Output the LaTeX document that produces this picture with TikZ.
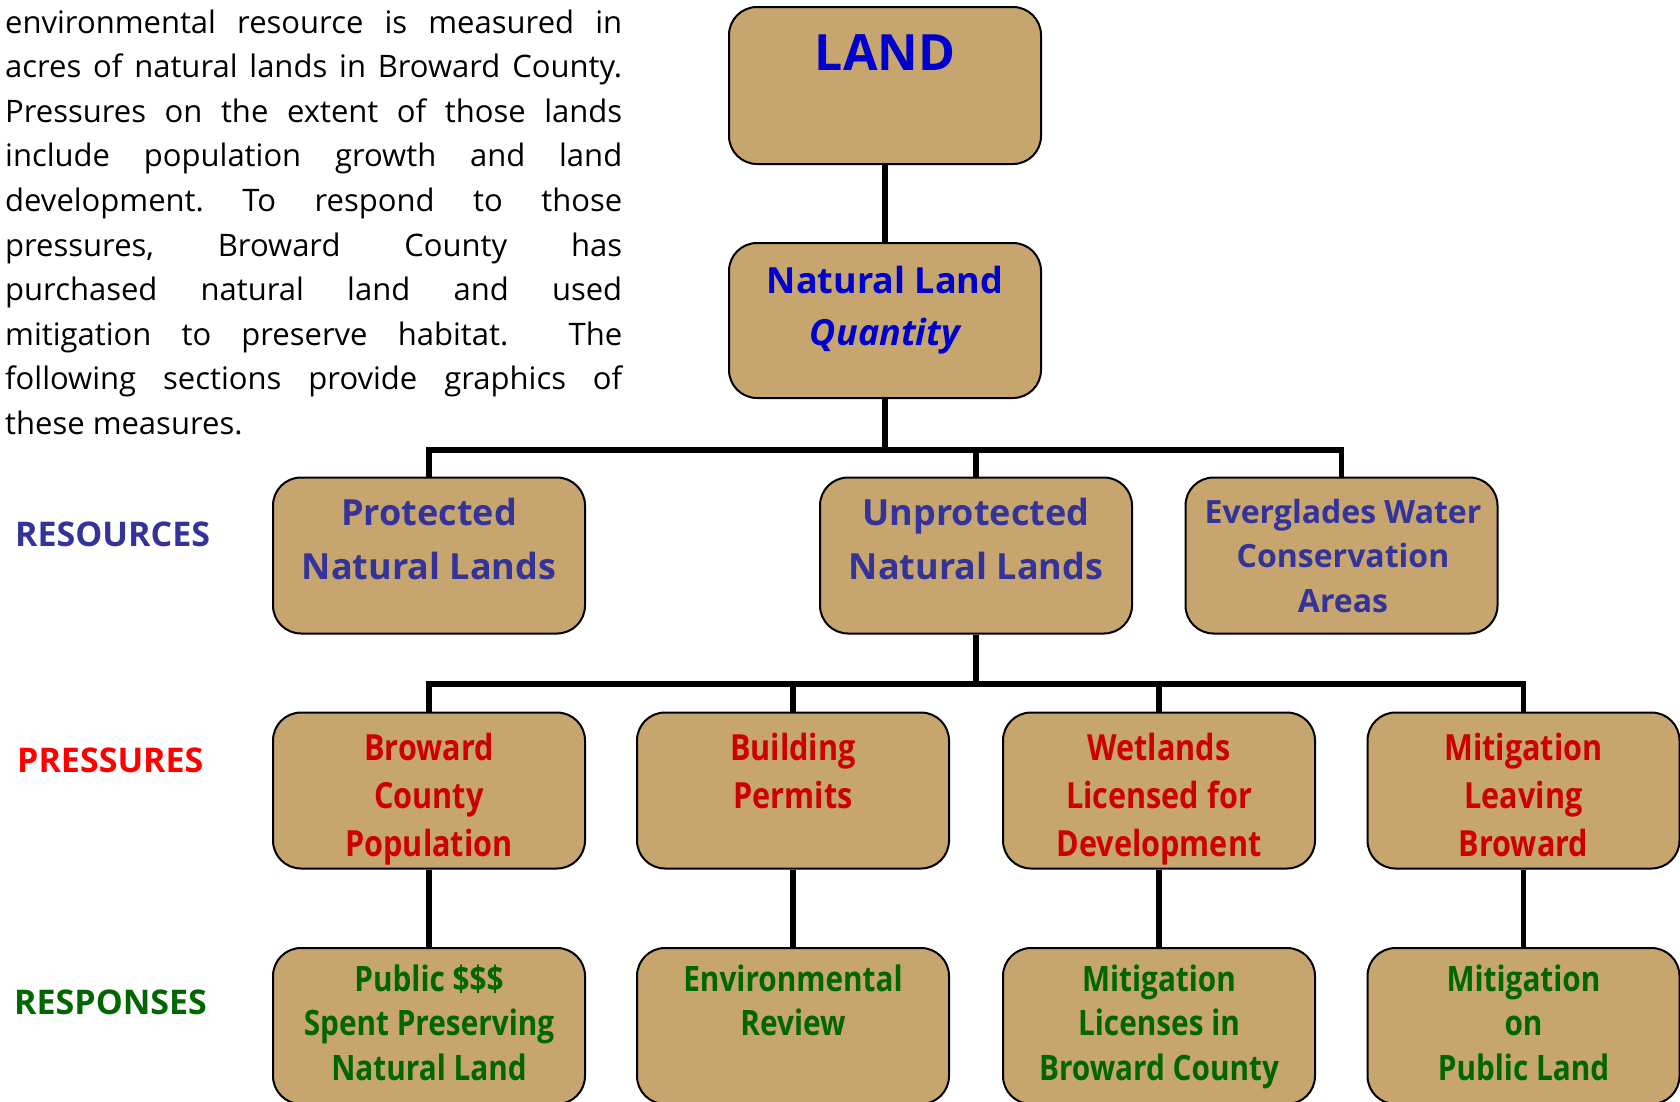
\documentclass[tikz,border=0pt]{standalone}
\usepackage{fontspec}
\setmainfont{Open Sans}
\newfontfamily\condfont[FakeStretch=0.85]{Open Sans}
\definecolor{boxtan}{HTML}{C6A56F}
\definecolor{landblue}{HTML}{0000CC}
\definecolor{resblue}{HTML}{333399}
\definecolor{presred}{HTML}{CC0000}
\definecolor{labred}{HTML}{FF0000}
\definecolor{respgreen}{HTML}{006600}
\newcommand{\boxtext}[3]{\parbox[t]{306pt}{\centering\fontsize{#1}{#2}\selectfont #3}}
\newcommand{\jline}[1]{\makebox[617pt][s]{#1}}
\frenchspacing
\begin{document}
\begin{tikzpicture}[x=1pt,y=-1pt,
  box/.style={draw=black, line width=2pt, fill=boxtan, rounded corners=28pt,
    minimum width=312pt, minimum height=156pt, inner sep=0pt},
  wire/.style={line width=5.5pt, black},
  txt/.style={anchor=base, inner sep=0pt},
  lab/.style={anchor=base west, inner sep=0pt, font=\fontsize{34}{40}\selectfont\bfseries}]
\useasboundingbox (0,0) rectangle (1680,1101);

% paragraph
\node[anchor=base west, inner sep=0pt] (para) at (5,33) {\parbox[t]{617pt}{\fontsize{31}{44.6}\selectfont
\jline{environmental resource is measured in}\\
\jline{acres of natural lands in Broward County.}\\
\jline{Pressures on the extent of those lands}\\
\jline{include population growth and land}\\
\jline{development. To respond to those}\\
\jline{pressures, Broward County has}\\
\jline{purchased natural land and used}\\
\jline{mitigation to preserve habitat.\ \ The}\\
\jline{following sections provide graphics of}\\
\makebox[617pt][l]{these measures.}}};

% row labels
\node[lab, text=resblue] (lres) at (15,546) {RESOURCES};
\node[lab, text=labred] (lpres) at (17,772) {PRESSURES};
\node[lab, text=respgreen] (lresp) at (14,1014) {RESPONSES};

% boxes
\node[box, minimum height=157pt] (land) at (885,85.5) {};
\node[box, minimum height=155pt] (nat) at (885,320.5) {};
\node[box] (prot) at (429,555.5) {};
\node[box] (unprot) at (976,555.5) {};
\node[box] (ever) at (1341.5,555.5) {};
\node[box] (p1) at (429,790.5) {};
\node[box] (p2) at (793,790.5) {};
\node[box] (p3) at (1159,790.5) {};
\node[box] (p4) at (1523.5,790.5) {};
\node[box] (r1) at (429,1026) {};
\node[box] (r2) at (793,1026) {};
\node[box] (r3) at (1159,1026) {};
\node[box] (r4) at (1523.5,1026) {};

% texts
\node[txt, text=landblue] (tland) at (885,70) {\boxtext{50}{60}{\bfseries LAND}};
\node[txt, text=landblue] (tnat) at (885,293) {\boxtext{36}{52}{\bfseries Natural Land\\ \itshape Quantity}};
\node[txt, text=resblue] (tprot) at (429,525) {\boxtext{36}{54}{\bfseries Protected\\Natural Lands}};
\node[txt, text=resblue] (tunprot) at (976,525) {\boxtext{36}{54}{\bfseries Unprotected\\Natural Lands}};
\node[txt, text=resblue] (tever) at (1343,523) {\boxtext{32}{44.5}{\bfseries Everglades Water\\Conservation\\Areas}};
\node[txt, text=presred] (tp1) at (429,760) {\boxtext{36}{48}{\condfont\bfseries Broward\\County\\Population}};
\node[txt, text=presred] (tp2) at (793,760) {\boxtext{36}{48}{\condfont\bfseries Building\\Permits}};
\node[txt, text=presred] (tp3) at (1159,760) {\boxtext{36}{48}{\condfont\bfseries Wetlands\\Licensed for\\Development}};
\node[txt, text=presred] (tp4) at (1523.5,760) {\boxtext{36}{48}{\condfont\bfseries Mitigation\\Leaving\\Broward}};
\node[txt, text=respgreen] (tr1) at (429,991) {\boxtext{35}{44.5}{\condfont\bfseries Public \$\$\$\\Spent Preserving\\Natural Land}};
\node[txt, text=respgreen] (tr2) at (793,991) {\boxtext{35}{44.5}{\condfont\bfseries Environmental\\Review}};
\node[txt, text=respgreen] (tr3) at (1159,991) {\boxtext{35}{44.5}{\condfont\bfseries Mitigation\\Licenses in\\Broward County}};
\node[txt, text=respgreen] (tr4) at (1523.5,991) {\boxtext{35}{44.5}{\condfont\bfseries Mitigation\\on\\Public Land}};

% connectors
\coordinate (j1) at (885,450);
\coordinate (j2) at (976,684);
\draw[wire] (land.south) -- (nat.north);
\draw[wire] (nat.south) -- (j1);
\draw[wire] (prot.north) |- (j1) -| (ever.north);
\draw[wire] (unprot.north) -- (unprot.north |- j1);
\draw[wire] (unprot.south) -- (j2);
\draw[wire] (p1.north) |- (j2) -| (p4.north);
\draw[wire] (p2.north) -- (p2.north |- j2);
\draw[wire] (p3.north) -- (p3.north |- j2);
\draw[wire] (p1.south) -- (r1.north);
\draw[wire] (p2.south) -- (r2.north);
\draw[wire] (p3.south) -- (r3.north);
\draw[wire] (p4.south) -- (r4.north);
\end{tikzpicture}
\end{document}
